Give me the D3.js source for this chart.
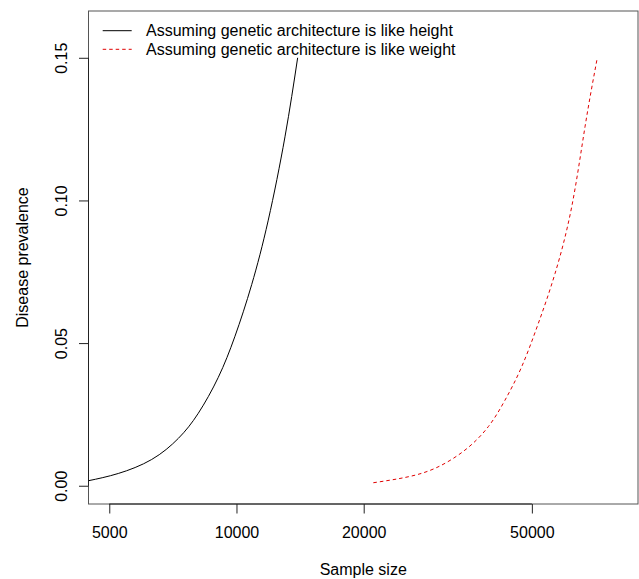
<!DOCTYPE html>
<html>
<head>
<meta charset="utf-8">
<script src="https://cdn.jsdelivr.net/npm/d3@7"></script>
<style>
  body { margin: 0; background: #fff; }
  text { font-family: "Liberation Sans", Arial, Helvetica, sans-serif; fill: #000; }
</style>
</head>
<body>
<div id="chart"></div>
<script>
// Chart size
var svgWidth = 639;
var svgHeight = 579;

// Plot box (R style, right margin cropped)
var box = { left: 88.5, top: 11, right: 638, bottom: 504 };

// Data: sample size vs disease prevalence
var heightN = [4460, 5252, 6300, 7285, 8121, 9057, 9918, 10864, 11891, 13024, 13955];
var heightK = [0.00175, 0.0043, 0.0092, 0.0166, 0.0254, 0.0380, 0.0524, 0.0705, 0.0931, 0.1223, 0.15];

var weightN = [21076, 25044, 29490, 34730, 39430, 43190, 47300, 51790, 56730, 62130, 66790, 71420];
var weightK = [0.00105, 0.0029, 0.0061, 0.0125, 0.0207, 0.030, 0.0417, 0.0569, 0.0744, 0.0978, 0.1258, 0.15];

var xTicks = [5000, 10000, 20000, 50000];
var yTicks = [0, 0.05, 0.10, 0.15];

var legendLabels = [
  "Assuming genetic architecture is like height",
  "Assuming genetic architecture is like weight"
];

var svg = d3.select("#chart")
  .append("svg")
  .attr("width", svgWidth)
  .attr("height", svgHeight);

// Scales
var xScale = d3.scaleLog().domain([4465, 89150]).range([box.left, box.right]);
var yScale = d3.scaleLinear().domain([-0.0064, 0.1664]).range([box.bottom, box.top]);

// Clip curves to plot region
svg.append("clipPath").attr("id", "plotclip")
  .append("rect")
  .attr("x", box.left).attr("y", box.top)
  .attr("width", box.right - box.left).attr("height", box.bottom - box.top);

// Box
svg.append("rect")
  .attr("x", box.left).attr("y", box.top)
  .attr("width", box.right - box.left).attr("height", box.bottom - box.top)
  .attr("fill", "none")
  .attr("stroke", "#555");

// Axes
var bottomAxis = d3.axisBottom(xScale)
  .tickValues(xTicks)
  .tickFormat(d3.format("d"))
  .tickSizeInner(9.5)
  .tickSizeOuter(0);

var leftAxis = d3.axisLeft(yScale)
  .tickValues(yTicks)
  .tickFormat(d3.format(".2f"))
  .tickSizeInner(9.5)
  .tickSizeOuter(0);

var xAxisG = svg.append("g")
  .attr("transform", `translate(0, ${box.bottom})`)
  .call(bottomAxis);
xAxisG.select(".domain")
  .attr("d", `M${xScale(5000)},0H${xScale(50000)}`)
  .attr("stroke", "#222");
xAxisG.selectAll(".tick line").attr("stroke", "#222");
xAxisG.selectAll(".tick text")
  .attr("y", 34)
  .attr("dy", null)
  .style("font-size", "16px")
  .style("font-family", "'Liberation Sans', Arial, sans-serif")
  .attr("fill", "#000");

var yAxisG = svg.append("g")
  .attr("transform", `translate(${box.left}, 0)`)
  .call(leftAxis);
yAxisG.select(".domain")
  .attr("d", `M0,${yScale(0)}V${yScale(0.15)}`)
  .attr("stroke", "#222");
yAxisG.selectAll(".tick line").attr("stroke", "#222");
yAxisG.selectAll(".tick text")
  .attr("x", null)
  .attr("dy", null)
  .attr("text-anchor", "middle")
  .attr("transform", "translate(-22, 0) rotate(-90)")
  .style("font-size", "16px")
  .style("font-family", "'Liberation Sans', Arial, sans-serif")
  .attr("fill", "#000");

// Axis titles
svg.append("text")
  .attr("x", (box.left + box.right) / 2)
  .attr("y", 575)
  .attr("text-anchor", "middle")
  .style("font-size", "16px")
  .text("Sample size");

svg.append("text")
  .attr("transform", `translate(28, ${(box.top + box.bottom) / 2}) rotate(-90)`)
  .attr("text-anchor", "middle")
  .style("font-size", "16px")
  .text("Disease prevalence");

// Curves
var line = d3.line()
  .x(d => xScale(d[0]))
  .y(d => yScale(d[1]))
  .curve(d3.curveNatural);

var plotG = svg.append("g").attr("clip-path", "url(#plotclip)");

plotG.append("path")
  .datum(d3.zip(heightN, heightK))
  .attr("d", line)
  .attr("fill", "none")
  .attr("stroke", "#000")
  .attr("stroke-width", 1);

plotG.append("path")
  .datum(d3.zip(weightN, weightK))
  .attr("d", line)
  .attr("fill", "none")
  .attr("stroke", "#e00000")
  .attr("stroke-width", 1)
  .attr("stroke-dasharray", "3.5,3");

// Legend
var legendColors = ["#000", "#e00000"];
var legendDash = [null, "3.5,3"];
var legendG = svg.append("g");
legendLabels.forEach(function(label, i) {
  var y = 30.7 + i * 18.6;
  legendG.append("line")
    .attr("x1", 102.7).attr("x2", 131.7)
    .attr("y1", y).attr("y2", y)
    .attr("stroke", legendColors[i])
    .attr("stroke-dasharray", legendDash[i]);
  legendG.append("text")
    .attr("x", 146)
    .attr("y", y)
    .attr("dy", "0.35em")
    .style("font-size", "16px")
    .text(label);
});
</script>
</body>
</html>
